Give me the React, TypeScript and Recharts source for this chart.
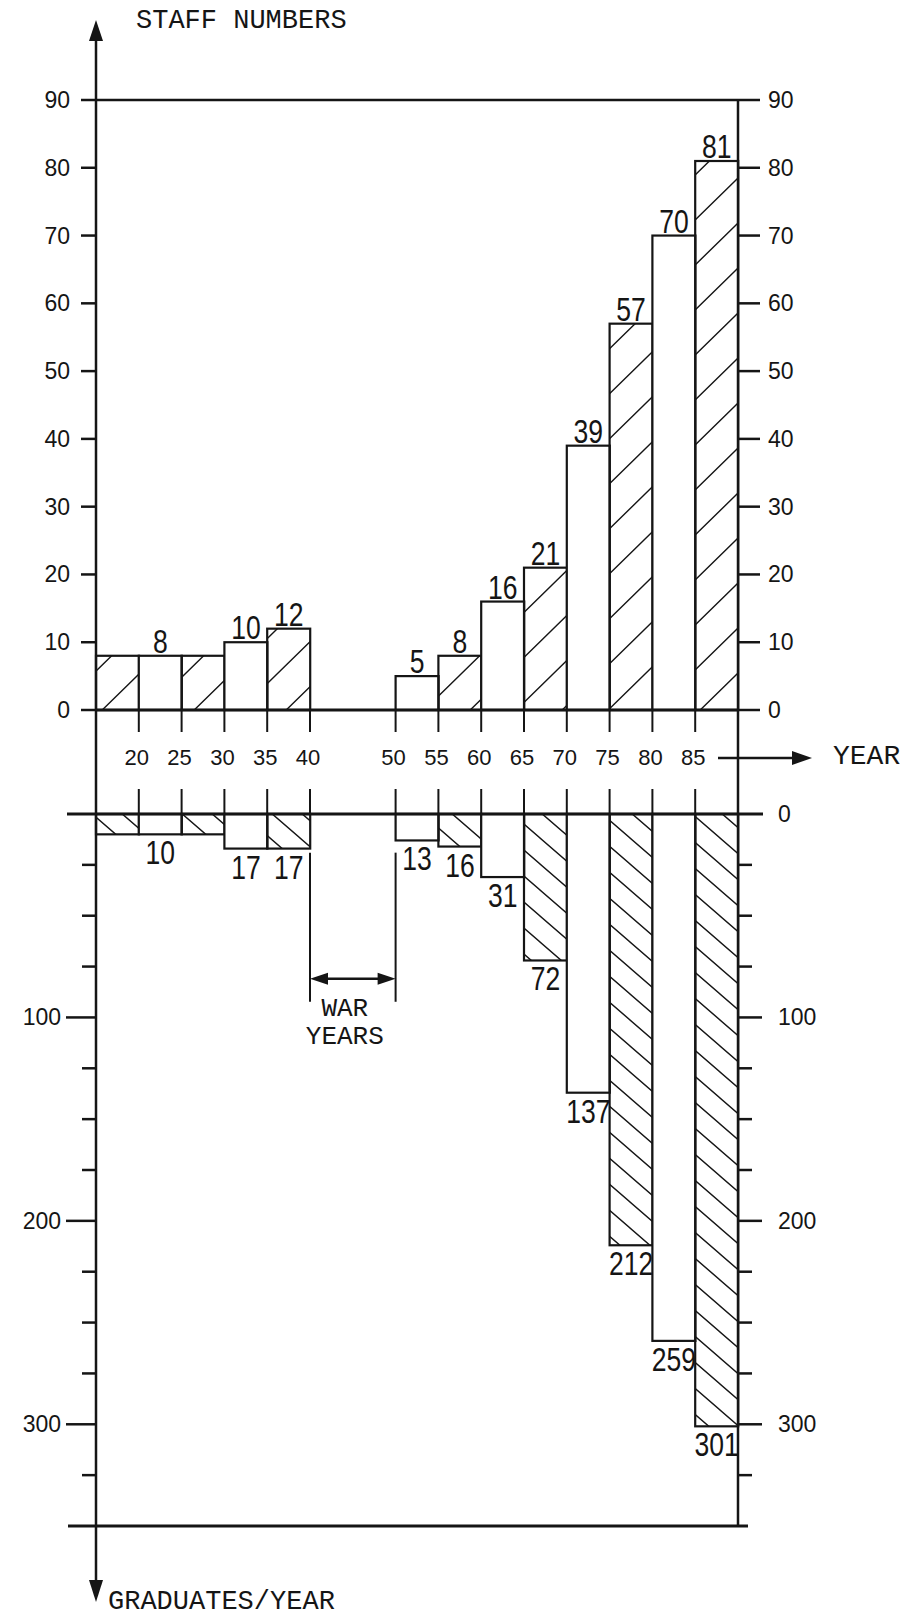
import React from 'react';
import { BarChart, Bar, XAxis, YAxis, ReferenceLine, ReferenceArea } from 'recharts';

// five-year periods, labelled by their first year
const periods = ['15', '20', '25', '30', '35', '40', '45', '50', '55', '60', '65', '70', '75', '80', '85'];
const staff = [8, 8, 8, 10, 12, null, null, 5, 8, 16, 21, 39, 57, 70, 81];
const staffLabels = ['', '8', '', '10', '12', '', '', '5', '8', '16', '21', '39', '57', '70', '81'];
const graduates = [10, 10, 10, 17, 17, null, null, 13, 16, 31, 72, 137, 212, 259, 301];
const graduateLabels = ['', '10', '', '17', '17', '', '', '13', '16', '31', '72', '137', '212', '259', '301'];
const hatched = [true, false, true, false, true, false, false, false, true, false, true, false, true, false, true];

const yearTicks = ['20', '25', '30', '35', '40', '50', '55', '60', '65', '70', '75', '80', '85'];
const staffTicks = [0, 10, 20, 30, 40, 50, 60, 70, 80, 90];
const gradTicks = [0, 25, 50, 75, 100, 125, 150, 175, 200, 225, 250, 275, 300, 325, 350];
const gradLabelled = [100, 200, 300];

const rows = periods.map((period, i) => ({
  period,
  staff: staff[i],
  staffLabel: staffLabels[i],
  graduates: graduates[i],
  graduateLabel: graduateLabels[i],
  hatched: hatched[i],
}));

const PLOT_LEFT = 96;
const PLOT_RIGHT = 738;
const BAND = (PLOT_RIGHT - PLOT_LEFT) / periods.length;
const INK = '#151515';
const sans = "'Liberation Sans', Arial, sans-serif";
const mono = "'Liberation Mono', 'DejaVu Sans Mono', monospace";

const boundaryX = (period: string) => PLOT_LEFT + (periods.indexOf(period) + 1) * BAND;

function barShape(below: boolean) {
  return (props: any) => {
    const { x, y, width, height, payload } = props;
    if (!Number.isFinite(height) || !Number.isFinite(y) || height === 0) return <g />;
    const top = Math.min(y, y + height);
    const h = Math.abs(height);
    const fill = payload.hatched ? (below ? 'url(#hatchDown)' : 'url(#hatchUp)') : '#fff';
    const label = below ? payload.graduateLabel : payload.staffLabel;
    const lx = x + width / 2;
    const ly = below ? top + h + 30 : top - 3;
    return (
      <g>
        <rect x={x} y={top} width={width} height={h} fill={fill} stroke={INK} strokeWidth={2.2} />
        {label ? (
          <text
            transform={`translate(${lx},${ly}) scale(0.78,1)`}
            textAnchor="middle"
            fontSize={34}
            fontFamily={sans}
            fill={INK}
          >
            {label}
          </text>
        ) : null}
      </g>
    );
  };
}

function yearTick(below: boolean) {
  return (props: any) => {
    const { y, payload } = props;
    const boundary = String(Number(payload.value) + 5);
    if (!yearTicks.includes(boundary)) return <g />;
    const bx = boundaryX(String(payload.value));
    if (below) {
      return <line x1={bx} x2={bx} y1={y - 25} y2={y} stroke={INK} strokeWidth={2} />;
    }
    return (
      <g>
        <line x1={bx} x2={bx} y1={y} y2={y + 22} stroke={INK} strokeWidth={2} />
        <text x={bx - 2} y={y + 55} textAnchor="middle" fontSize={22} fontFamily={sans} fill={INK}>
          {boundary}
        </text>
      </g>
    );
  };
}

// left and right scales share one axis; the right copy is drawn at the plot's right edge
const staffTick = (props: any) => {
  const { x, y, payload } = props;
  const rx = PLOT_RIGHT;
  return (
    <g>
      <line x1={x} x2={x - 15} y1={y} y2={y} stroke={INK} strokeWidth={2.5} />
      <text x={x - 26} y={y + 8} textAnchor="end" fontSize={23} fontFamily={sans} fill={INK}>
        {payload.value}
      </text>
      <line x1={rx} x2={rx + 22} y1={y} y2={y} stroke={INK} strokeWidth={2.5} />
      <text x={rx + 30} y={y + 8} textAnchor="start" fontSize={23} fontFamily={sans} fill={INK}>
        {payload.value}
      </text>
    </g>
  );
};

const gradTick = (props: any) => {
  const { x, y, payload } = props;
  const v = Number(payload.value);
  const rx = PLOT_RIGHT;
  let leftLen = 14;
  let rightLen = 14;
  if (v === 0) {
    leftLen = 29;
    rightLen = 25;
  } else if (v === 350) {
    leftLen = 28;
    rightLen = 10;
  } else if (v % 100 === 0) {
    leftLen = 30;
    rightLen = 24;
  }
  const w = v === 0 || v === 350 ? 3 : 2.5;
  return (
    <g>
      <line x1={x} x2={x - leftLen} y1={y} y2={y} stroke={INK} strokeWidth={w} />
      {gradLabelled.includes(v) ? (
        <text x={x - leftLen - 5} y={y + 8} textAnchor="end" fontSize={23} fontFamily={sans} fill={INK}>
          {v}
        </text>
      ) : null}
      <line x1={rx} x2={rx + rightLen} y1={y} y2={y} stroke={INK} strokeWidth={w} />
      {v === 0 || gradLabelled.includes(v) ? (
        <text x={rx + 40} y={y + 8} textAnchor="start" fontSize={23} fontFamily={sans} fill={INK}>
          {v}
        </text>
      ) : null}
    </g>
  );
};

const warShape = (props: any) => {
  const { x, y, width, height } = props;
  const l = x;
  const r = x + width;
  const arrowY = y + height;
  const bottom = arrowY + 23;
  const cx = (l + r) / 2 - 8;
  return (
    <g>
      <line x1={l} x2={l} y1={y} y2={bottom} stroke={INK} strokeWidth={2} />
      <line x1={r} x2={r} y1={y} y2={bottom} stroke={INK} strokeWidth={2} />
      <line x1={l + 12} x2={r - 12} y1={arrowY} y2={arrowY} stroke={INK} strokeWidth={2.5} />
      <polygon points={`${l},${arrowY} ${l + 18},${arrowY - 6} ${l + 18},${arrowY + 6}`} fill={INK} />
      <polygon points={`${r},${arrowY} ${r - 18},${arrowY - 6} ${r - 18},${arrowY + 6}`} fill={INK} />
      <text x={cx} y={arrowY + 37} textAnchor="middle" fontSize={26} fontFamily={mono} fill={INK}>
        WAR
      </text>
      <text x={cx} y={arrowY + 65} textAnchor="middle" fontSize={26} fontFamily={mono} fill={INK}>
        YEARS
      </text>
    </g>
  );
};

export default function App() {
  return (
    <div style={{ position: 'absolute', left: 0, top: 0, width: 907, height: 1619, background: '#fff' }}>
      <div style={{ position: 'absolute', left: 0, top: 0 }}>
        <BarChart
          width={907}
          height={790}
          data={rows}
          margin={{ top: 100, right: 169, bottom: 0, left: 0 }}
          barCategoryGap={0}
          barGap={0}
        >
          <defs>
            <pattern id="hatchUp" patternUnits="userSpaceOnUse" width={46} height={45}>
              <path d="M0,45 L46,0 M-11.5,11.25 L11.5,-11.25 M34.5,56.25 L57.5,33.75" stroke={INK} strokeWidth={1.4} />
            </pattern>
          </defs>
          <XAxis
            dataKey="period"
            height={80}
            axisLine={false}
            tickLine={false}
            tickSize={0}
            tickMargin={0}
            interval={0}
            tick={yearTick(false)}
          />
          <YAxis
            yAxisId="left"
            width={96}
            domain={[0, 90]}
            ticks={staffTicks}
            interval={0}
            axisLine={false}
            tickLine={false}
            tickSize={0}
            tickMargin={0}
            tick={staffTick}
          />
          <ReferenceLine yAxisId="left" y={90} stroke={INK} strokeWidth={2.5} />
          <Bar dataKey="staff" yAxisId="left" isAnimationActive={false} shape={barShape(false)} />
          <ReferenceLine yAxisId="left" y={0} stroke={INK} strokeWidth={3} />
        </BarChart>
      </div>
      <div style={{ position: 'absolute', left: 0, top: 760 }}>
        <BarChart
          width={907}
          height={859}
          data={rows}
          margin={{ top: 0, right: 169, bottom: 93, left: 0 }}
          barCategoryGap={0}
          barGap={0}
        >
          <defs>
            <pattern id="hatchDown" patternUnits="userSpaceOnUse" width={30} height={26}>
              <path d="M0,0 L30,26 M-7.5,19.5 L7.5,32.5 M22.5,-6.5 L37.5,6.5" stroke={INK} strokeWidth={1.4} />
            </pattern>
          </defs>
          <XAxis
            dataKey="period"
            orientation="top"
            height={54}
            axisLine={false}
            tickLine={false}
            tickSize={0}
            tickMargin={0}
            interval={0}
            tick={yearTick(true)}
          />
          <YAxis
            yAxisId="left"
            width={96}
            domain={[0, 350]}
            reversed
            ticks={gradTicks}
            interval={0}
            axisLine={false}
            tickLine={false}
            tickSize={0}
            tickMargin={0}
            tick={gradTick}
          />
          <ReferenceLine yAxisId="left" y={350} stroke={INK} strokeWidth={3} />
          <ReferenceArea yAxisId="left" x1="40" x2="45" y1={19} y2={81} shape={warShape} />
          <Bar dataKey="graduates" yAxisId="left" isAnimationActive={false} shape={barShape(true)} />
          <ReferenceLine yAxisId="left" y={0} stroke={INK} strokeWidth={3} />
        </BarChart>
      </div>
      <svg
        width={907}
        height={1619}
        style={{ position: 'absolute', left: 0, top: 0, pointerEvents: 'none' }}
      >
        <line x1={PLOT_LEFT} x2={PLOT_LEFT} y1={36} y2={1586} stroke={INK} strokeWidth={2.5} />
        <polygon points={`${PLOT_LEFT},20 ${PLOT_LEFT - 7},41 ${PLOT_LEFT + 7},41`} fill={INK} />
        <polygon points={`${PLOT_LEFT},1602 ${PLOT_LEFT - 7},1580 ${PLOT_LEFT + 7},1580`} fill={INK} />
        <line x1={PLOT_RIGHT} x2={PLOT_RIGHT} y1={99} y2={1527} stroke={INK} strokeWidth={2.5} />
        <line x1={718} x2={796} y1={758} y2={758} stroke={INK} strokeWidth={2.5} />
        <polygon points="812,758 792,751 792,765" fill={INK} />
        <text x={833} y={764} fontSize={28} fontFamily={mono} fill={INK}>
          YEAR
        </text>
        <text x={136} y={28} fontSize={27} fontFamily={mono} fill={INK}>
          STAFF NUMBERS
        </text>
        <text x={108} y={1609} fontSize={27} fontFamily={mono} fill={INK}>
          GRADUATES/YEAR
        </text>
      </svg>
    </div>
  );
}
